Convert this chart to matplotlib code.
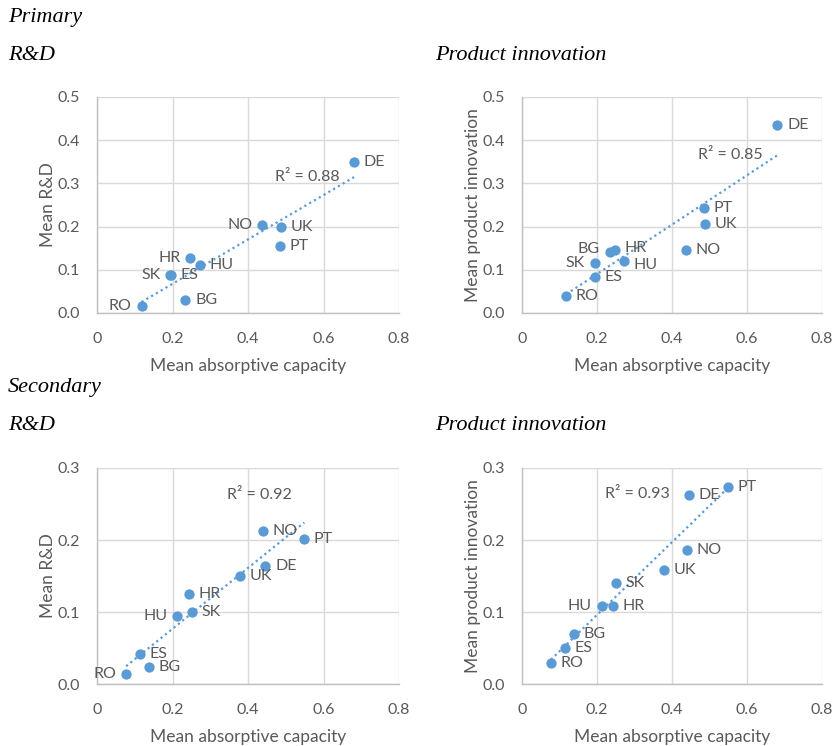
import numpy as np
import matplotlib
matplotlib.use("Agg")
import matplotlib.pyplot as plt
from matplotlib.ticker import FuncFormatter, MultipleLocator

# values
countries = ["DE", "NO", "UK", "PT", "HR", "HU", "SK", "ES", "BG", "RO"]

prim_abs = [0.681, 0.437, 0.487, 0.485, 0.247, 0.272, 0.194, 0.195, 0.234, 0.118]
prim_rd = [0.350, 0.204, 0.199, 0.156, 0.127, 0.110, 0.088, 0.089, 0.029, 0.017]
prim_pi = [0.436, 0.145, 0.206, 0.243, 0.145, 0.120, 0.115, 0.083, 0.142, 0.039]

sec_abs = [0.446, 0.440, 0.378, 0.549, 0.243, 0.212, 0.251, 0.114, 0.138, 0.077]
sec_rd = [0.164, 0.212, 0.150, 0.201, 0.125, 0.094, 0.100, 0.042, 0.023, 0.014]
sec_pi = [0.263, 0.186, 0.159, 0.274, 0.109, 0.109, 0.140, 0.050, 0.069, 0.029]

r2_labels = ["R² = 0.88", "R² = 0.85", "R² = 0.92", "R² = 0.93"]
ylabels = ["Mean R&D", "Mean product innovation", "Mean R&D", "Mean product innovation"]
ymax = [0.5, 0.5, 0.3, 0.3]
# countries whose label sits left of the dot
left_labels = [["NO", "HR", "SK", "RO"], ["BG", "SK"], ["RO", "HU"], ["HU"]]
# small vertical nudges (points) for crowded labels
nudges = [{}, {"HR": 2, "BG": 2, "HU": -3}, {}, {}]

BLUE = "#5B9BD5"
GREY = "#595959"
plt.rcParams["font.family"] = ["Lato", "DejaVu Sans"]

W, H = 836, 746
fig = plt.figure(figsize=(W / 100, H / 100), dpi=100)


def box(x0, x1, ytop, ybot):
    return [x0 / W, 1 - ybot / H, (x1 - x0) / W, (ybot - ytop) / H]


boxes = [box(97, 399, 97, 313), box(522, 822, 97, 313),
         box(97, 399, 468, 684), box(522, 822, 468, 684)]
r2_pos = [(0.59, 0.63), (0.587, 0.73), (0.43, 0.875), (0.277, 0.88)]
panels = [(prim_abs, prim_rd), (prim_abs, prim_pi), (sec_abs, sec_rd), (sec_abs, sec_pi)]

for i, (xs, ys) in enumerate(panels):
    ax = fig.add_axes(boxes[i])
    x = np.array(xs)
    y = np.array(ys)
    ax.scatter(x, y, s=55, color=BLUE, zorder=3, linewidths=0)
    k, b = np.polyfit(x, y, 1)
    xl = np.array([x.min(), x.max()])
    ax.plot(xl, k * xl + b, color=BLUE, ls=(0, (1, 1.5)), lw=1.6, zorder=2)
    for c, xv, yv in zip(countries, x, y):
        dy = nudges[i].get(c, 0)
        if c in left_labels[i]:
            ax.annotate(c, (xv, yv), xytext=(-7, dy), textcoords="offset points",
                        ha="right", va="center", fontsize=11.5, color=GREY)
        else:
            ax.annotate(c, (xv, yv), xytext=(7, dy), textcoords="offset points",
                        ha="left", va="center", fontsize=11.5, color=GREY)
    ax.text(r2_pos[i][0], r2_pos[i][1], r2_labels[i], transform=ax.transAxes,
            fontsize=11.5, color=GREY, ha="left", va="center")

    ax.set_xlim(0, 0.8)
    ax.set_ylim(0, ymax[i])
    ax.xaxis.set_major_locator(MultipleLocator(0.2))
    ax.yaxis.set_major_locator(MultipleLocator(0.1))
    ax.xaxis.set_major_formatter(FuncFormatter(lambda v, p: "0" if abs(v) < 1e-9 else f"{v:.1f}"))
    ax.yaxis.set_major_formatter(FuncFormatter(lambda v, p: f"{v:.1f}"))
    ax.grid(True, color="#d9d9d9", lw=1.0)
    ax.set_axisbelow(True)
    for s in ["top", "right"]:
        ax.spines[s].set_visible(False)
    for s in ["left", "bottom"]:
        ax.spines[s].set_color("#bfbfbf")
        ax.spines[s].set_linewidth(1.0)
    ax.tick_params(length=0, labelsize=11.5, labelcolor=GREY)
    ax.tick_params(axis="x", pad=14)
    ax.tick_params(axis="y", pad=12)
    ax.set_xlabel("Mean absorptive capacity", fontsize=12.5, color=GREY, labelpad=8)
    ax.set_ylabel(ylabels[i], fontsize=12.5, color=GREY, labelpad=1)

serif = dict(family="Liberation Serif", style="italic", fontsize=16, va="baseline", ha="left")
fig.text(8 / W, 1 - 22 / H, "Primary", **serif)
fig.text(8 / W, 1 - 60 / H, "R&D", **serif)
fig.text(435 / W, 1 - 60 / H, "Product innovation", **serif)
fig.text(8 / W, 1 - 392 / H, "Secondary", **serif)
fig.text(8 / W, 1 - 430 / H, "R&D", **serif)
fig.text(435 / W, 1 - 430 / H, "Product innovation", **serif)

fig.savefig("out.png", dpi=100)
